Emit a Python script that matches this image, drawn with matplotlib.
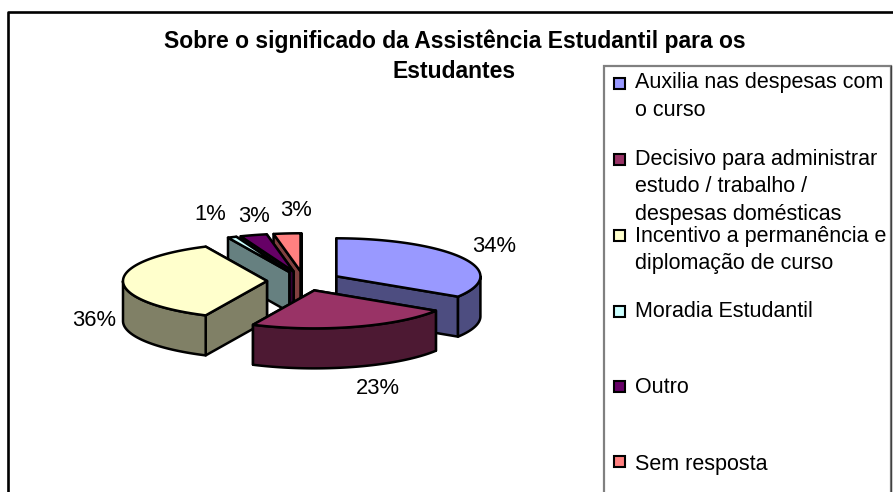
import numpy as np
import matplotlib
matplotlib.use("Agg")
import matplotlib.pyplot as plt
from matplotlib.patches import Polygon, Rectangle

plt.rcParams['font.family'] = ['Liberation Sans', 'DejaVu Sans']

labels = ["Auxilia nas despesas com\no curso",
          "Decisivo para administrar\nestudo / trabalho /\ndespesas domésticas",
          "Incentivo a permanência e\ndiplomação de curso",
          "Moradia Estudantil", "Outro", "Sem resposta"]
values = [34, 23, 36, 1, 3, 3]
colors = ["#9999FF", "#993366", "#FFFFCC", "#CCFFFF", "#660066", "#FF8080"]
shades = ["#4D4D80", "#4D1933", "#808066", "#668080", "#330033", "#804040"]
title_lines = ["Sobre o significado da Assistência Estudantil para os", "Estudantes"]
pct_pos = [(494, 247), (378, 389), (94, 321), (210, 215), (254, 217), (296, 211)]
legend_y = [88, 165, 242, 317, 393, 470]
swatch_y = [83, 159, 235, 311, 386, 461]

W, H = 893, 492
CX, CY, RX, RY, DEPTH, EXPL = 304, 281, 144, 38, 40, 37
LW = 1.8

fig = plt.figure(figsize=(W / 100, H / 100), dpi=100)
ax = fig.add_axes([0, 0, 1, 1])
ax.set_xlim(0, W)
ax.set_ylim(H, 0)
ax.axis('off')

# outer chart frame (runs off the top right and the bottom)
ax.plot([8, 8, W + 5], [H + 5, 12, 12], color='black', lw=1.9, zorder=1)


def pt(deg, r=1.0):
    t = np.radians(deg)
    return r * RX * np.sin(t), -r * RY * np.cos(t)


def draw_slice(start, end, face, shade, z):
    mid = (start + end) / 2
    ax_, ay_ = pt(mid, EXPL / RX)
    x0, y0 = CX + ax_, CY + ay_
    edge = dict(edgecolor='black', lw=LW, joinstyle='round', zorder=z)
    radial = []
    for a in (start, end):
        dx, dy = pt(a)
        radial.append((y0 + dy, [(x0, y0), (x0 + dx, y0 + dy), (x0 + dx, y0 + dy + DEPTH), (x0, y0 + DEPTH)]))
    for _, q in sorted(radial, key=lambda r: r[0]):
        ax.add_patch(Polygon(q, closed=True, facecolor=shade, **edge))
    lo, hi = max(start, 90), min(end, 270)
    if lo < hi:
        angs = np.linspace(lo, hi, 80)
        rim = np.array([pt(a) for a in angs]) + [x0, y0]
        low = rim + [0, DEPTH]
        ax.add_patch(Polygon(np.vstack([rim, low[::-1]]), closed=True, facecolor=shade, **edge))
    angs = np.linspace(start, end, 80)
    rim = np.array([pt(a) for a in angs]) + [x0, y0]
    ax.add_patch(Polygon(np.vstack([[x0, y0], rim]), closed=True, facecolor=face, **edge))


cum = np.cumsum([0] + values) / sum(values) * 360
for z, i in enumerate([5, 4, 3, 0, 2, 1]):
    draw_slice(cum[i], cum[i + 1], colors[i], shades[i], 3 + z)

for v, (x, y) in zip(values, pct_pos):
    ax.text(x, y, f"{v}%", ha='center', va='center', fontsize=15.8, color='black', zorder=20)

# title
for line, y in zip(title_lines, (48, 78)):
    ax.text(454.5, y, line, ha='center', va='baseline', fontsize=16.5, fontweight='bold', zorder=20)

# legend
ax.add_patch(Rectangle((604, 66), 287, H, facecolor='white', edgecolor='#808080', lw=1.6, zorder=15))
ax.plot([891, 891], [66, H + 5], color='#404040', lw=1.0, zorder=16)
for lab, c, y, sy in zip(labels, colors, legend_y, swatch_y):
    ax.add_patch(Rectangle((613.5, sy - 5.5), 11, 11, facecolor=c, edgecolor='black', lw=1.5, zorder=17))
    for j, part in enumerate(lab.split("\n")):
        ax.text(635, y + j * 27.5, part, ha='left', va='baseline', fontsize=15.5, color='black', zorder=20)

fig.savefig("out.png", dpi=100)
